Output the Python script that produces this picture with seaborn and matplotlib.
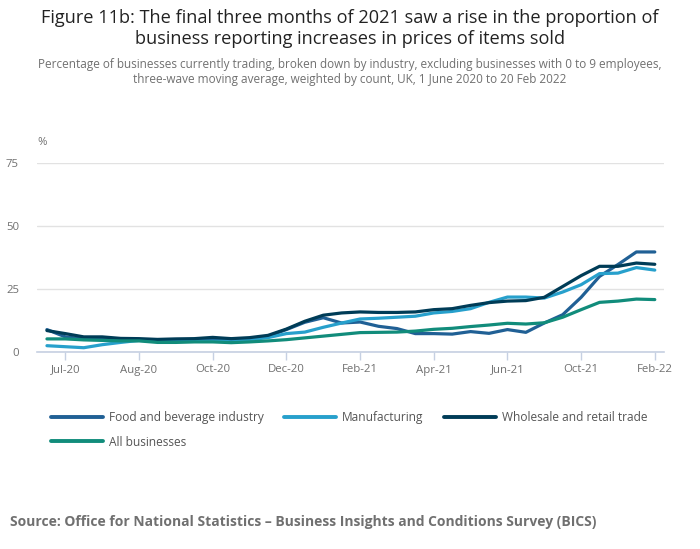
import numpy as np
import pandas as pd
import matplotlib
matplotlib.use("Agg")
import matplotlib.pyplot as plt
import seaborn as sns
from matplotlib.lines import Line2D

# ---- data ----
food = [8.9, 6.0, 5.2, 5.2, 4.9, 4.9, 4.6, 4.6, 4.6, 4.9, 4.5, 5.2, 6.2, 8.9, 11.8, 13.6, 11.5,
        11.9, 10.2, 9.3, 7.3, 7.3, 7.1, 8.1, 7.4, 8.9, 7.8, 11.5, 14.8, 21.7, 30.0, 34.7, 39.7, 39.7]
manufacturing = [2.5, 2.1, 1.7, 2.9, 3.8, 4.6, 4.4, 4.5, 4.4, 4.2, 4.4, 4.9, 5.7, 7.3, 7.9, 9.8, 11.5,
                 13.1, 13.4, 13.8, 14.2, 15.5, 16.1, 17.2, 19.7, 21.8, 21.8, 21.4, 23.8, 26.7, 31.1, 31.3, 33.5, 32.5]
wholesale = [8.5, 7.3, 6.0, 6.0, 5.4, 5.3, 5.0, 5.2, 5.3, 5.8, 5.3, 5.7, 6.6, 9.1, 12.2, 14.6, 15.5,
             15.9, 15.7, 15.7, 15.9, 16.8, 17.2, 18.5, 19.6, 20.2, 20.4, 21.7, 26.0, 30.3, 34.0, 34.0, 35.3, 34.8]
all_businesses = [5.2, 5.2, 4.8, 4.6, 4.4, 4.4, 3.8, 3.8, 4.0, 4.0, 3.7, 4.0, 4.4, 4.9, 5.6, 6.3, 7.0,
                  7.7, 7.8, 7.9, 8.3, 9.0, 9.4, 10.1, 10.7, 11.4, 11.1, 11.6, 13.8, 16.8, 19.7, 20.2, 21.0, 20.8]
series_names = ["Food and beverage industry", "Manufacturing", "Wholesale and retail trade", "All businesses"]
series_colors = ["#206095", "#27a0cc", "#003c57", "#118c7b"]
tick_labels = ["Jul-20", "Aug-20", "Oct-20", "Dec-20", "Feb-21", "Apr-21", "Jun-21", "Oct-21", "Feb-22"]
tick_positions = [1, 5, 9, 13, 17, 21, 25, 29, 33]
y_ticks = [0, 25, 50, 75]

wave = np.arange(len(food))
df = pd.concat([
    pd.DataFrame({"wave": wave, "value": vals, "series": name})
    for name, vals in zip(series_names, [food, manufacturing, wholesale, all_businesses])
])

sns.set_theme(style="white")
plt.rcParams["font.family"] = ["Open Sans", "DejaVu Sans"]

fig = plt.figure(figsize=(7.0, 5.49), dpi=100)
ax = fig.add_axes([37/700, 1-352/549, (664-37)/700, (352-163)/549])

palette = dict(zip(series_names, series_colors))
sns.lineplot(data=df, x="wave", y="value", hue="series", hue_order=series_names,
             palette=palette, linewidth=2.3, ax=ax, legend=False, clip_on=False)

ax.set_xlim(-0.54, 33.5)
ax.set_ylim(0, 75)
ax.set_yticks(y_ticks)
ax.set_xticks(tick_positions)
ax.set_xticklabels(tick_labels)
ax.set_xlabel("")
ax.set_ylabel("")
ax.grid(axis="y", color="#e2e2e2", linewidth=1)
ax.grid(axis="x", visible=False)
for s in ["top", "right", "left"]:
    ax.spines[s].set_visible(False)
ax.spines["bottom"].set_color("#c6d0e2")
ax.spines["bottom"].set_linewidth(1.2)
ax.tick_params(axis="y", length=0, pad=13, labelsize=8.2, labelcolor="#707070")
ax.tick_params(axis="x", length=6, width=1, color="#c6d0e2", pad=3, labelsize=8.2, labelcolor="#707070", bottom=True)
for lbl in ax.get_yticklabels():
    lbl.set_horizontalalignment("right")
ax.text(37/700, 1-143/549, "%", transform=fig.transFigure, fontsize=8.2, color="#707070",
        ha="left", va="center")

fig.text(0.5, 1-18/549, "Figure 11b: The final three months of 2021 saw a rise in the proportion of",
         ha="center", va="center", fontsize=13.1, color="#222222")
fig.text(0.5, 1-39/549, "business reporting increases in prices of items sold",
         ha="center", va="center", fontsize=13.1, color="#222222")
fig.text(0.5, 1-64/549, "Percentage of businesses currently trading, broken down by industry, excluding businesses with 0 to 9 employees,",
         ha="center", va="center", fontsize=8.45, color="#707070")
fig.text(0.5, 1-79/549, "three-wave moving average, weighted by count, UK, 1 June 2020 to 20 Feb 2022",
         ha="center", va="center", fontsize=8.45, color="#707070")

handles = [Line2D([0], [0], color=c, lw=2.8) for c in series_colors]
order = [0, 3, 1, 2]
leg = fig.legend([handles[i] for i in order], [series_names[i] for i in order],
                 ncol=3, loc="upper left", bbox_to_anchor=(40/700, 1-400/549),
                 frameon=False, fontsize=8.55, handlelength=4.4, handletextpad=0.5,
                 columnspacing=1.7, labelspacing=1.0, labelcolor="#555555")

fig.text(10/700, 1-522/549, "Source: Office for National Statistics \u2013 Business Insights and Conditions Survey (BICS)",
         ha="left", va="center", fontsize=10.0, fontweight="bold", color="#707070")

fig.savefig("out.png", dpi=100)
